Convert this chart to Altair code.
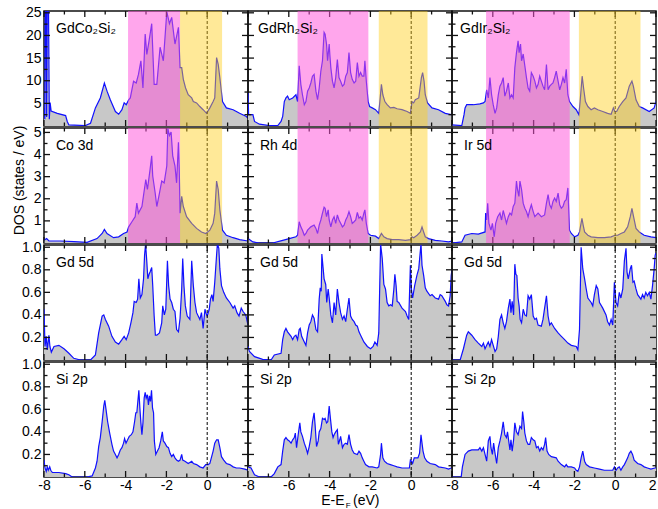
import altair as alt
import pandas as pd

FONT = "Liberation Sans"
W, H = 204, 115
BLUE = "#1010ff"
FILL = "#c8c8c8"
PINK = "#ff55da"
YELLOW = "#ffcf1b"
INK = "#111111"

# ---------------- data (E - E_F in eV, DOS in states/eV) ----------------
co_tot = [(-8.00, 4.0), (-7.96, 1.5), (-7.94, 27), (-7.90, 27), (-7.87, 2.0), (-7.84, 27), (-7.78, 27),
          (-7.74, 1.5), (-7.70, 5.2), (-7.65, 3.3), (-7.35, 2.8), (-6.94, 2.3), (-6.86, 1.0), (-6.78, 0.24),
          (-5.97, 0.1), (-5.72, 0.6), (-5.48, 4.0), (-5.24, 6.2), (-5.04, 9.5), (-4.91, 7.7), (-4.75, 5.8),
          (-4.50, 3.2), (-4.34, 2.6), (-4.18, 3.6), (-4.07, 5.1), (-3.97, 4.7), (-3.85, 5.8), (-3.77, 6.2),
          (-3.61, 9.9), (-3.48, 9.5), (-3.37, 11.4), (-3.25, 14.4), (-3.15, 8.4), (-3.04, 20.3), (-2.96, 15.8),
          (-2.85, 18.8), (-2.72, 22.6), (-2.60, 9.2), (-2.47, 9.2), (-2.31, 17.4), (-2.15, 14.4), (-1.98, 25.2),
          (-1.85, 22.6), (-1.74, 24.0), (-1.58, 18.1), (-1.41, 21.8), (-1.33, 12.9), (-1.25, 12.9), (-1.17, 10.3),
          (-1.06, 8.4), (-0.93, 6.9), (-0.76, 6.2), (-0.68, 5.4), (-0.52, 5.1), (-0.36, 4.3), (-0.20, 3.6),
          (-0.03, 2.8), (0.13, 4.0), (0.29, 5.4), (0.37, 6.2), (0.46, 15.1), (0.54, 13.6), (0.62, 10.7),
          (0.75, 5.4), (0.94, 4.0), (1.27, 3.6), (1.59, 2.8), (1.92, 2.1), (2.00, 1.7)]

rh_tot = [(-8.00, 7.3), (-7.97, 2.5), (-7.76, 2.5), (-7.68, 1.0), (-7.44, 0.4), (-6.95, 0.1), (-6.54, 0.1),
          (-6.38, 1.0), (-6.30, 2.1), (-6.22, 5.4), (-6.14, 6.2), (-6.06, 6.6), (-5.98, 5.8), (-5.81, 6.2),
          (-5.65, 6.9), (-5.57, 5.4), (-5.49, 13.3), (-5.41, 9.2), (-5.33, 6.9), (-5.24, 4.7), (-5.16, 5.4),
          (-5.08, 7.7), (-5.00, 8.4), (-4.92, 9.5), (-4.84, 11.0), (-4.76, 11.4), (-4.67, 7.7), (-4.59, 5.8),
          (-4.51, 8.4), (-4.43, 12.1), (-4.35, 14.4), (-4.27, 20.7), (-4.22, 20.3), (-4.15, 18.1), (-4.10, 14.4),
          (-4.02, 18.1), (-3.99, 15.9), (-3.94, 12.9), (-3.86, 9.9), (-3.78, 8.4), (-3.70, 10.7), (-3.62, 14.7),
          (-3.54, 10.7), (-3.46, 9.9), (-3.37, 8.8), (-3.29, 9.2), (-3.21, 11.0), (-3.13, 11.8), (-3.05, 16.2),
          (-2.97, 11.8), (-2.89, 10.3), (-2.80, 9.5), (-2.72, 9.9), (-2.64, 14.0), (-2.56, 11.0), (-2.48, 11.8),
          (-2.40, 11.0), (-2.32, 11.0), (-2.27, 14.4), (-2.20, 9.9), (-2.11, 5.4), (-2.04, 4.3), (-1.91, 4.0),
          (-1.75, 3.6), (-1.59, 2.8), (-1.46, 9.2), (-1.39, 6.9), (-1.29, 5.4), (-1.18, 4.7), (-1.02, 4.0),
          (-0.85, 4.1), (-0.69, 3.8), (-0.45, 3.6), (-0.20, 3.2), (-0.04, 2.8), (0.04, 5.4), (0.12, 5.1),
          (0.20, 5.8), (0.37, 6.2), (0.50, 10.7), (0.56, 11.8), (0.63, 9.9), (0.69, 6.9), (0.80, 5.1),
          (1.02, 4.0), (1.34, 3.6), (1.67, 2.8), (1.96, 2.5), (2.00, 2.5)]

ir_tot = [(-8.00, 0.24), (-7.52, 0.1), (-7.41, 2.5), (-7.36, 4.0), (-7.28, 4.7), (-6.95, 4.7), (-6.63, 4.9),
          (-6.46, 5.1), (-6.38, 5.4), (-6.30, 8.0), (-6.22, 6.2), (-6.14, 10.7), (-6.06, 6.9), (-5.98, 4.7),
          (-5.89, 2.8), (-5.81, 4.0), (-5.73, 6.9), (-5.65, 8.8), (-5.57, 9.5), (-5.49, 10.7), (-5.41, 6.6),
          (-5.33, 7.7), (-5.24, 9.5), (-5.16, 6.2), (-5.08, 6.9), (-5.00, 6.2), (-4.92, 12.9), (-4.84, 16.2),
          (-4.76, 18.8), (-4.71, 16.2), (-4.64, 18.1), (-4.59, 14.4), (-4.51, 15.9), (-4.43, 13.3), (-4.35, 10.7),
          (-4.27, 8.4), (-4.19, 7.7), (-4.11, 11.8), (-4.02, 11.0), (-3.94, 9.9), (-3.86, 8.4), (-3.78, 9.2),
          (-3.70, 11.0), (-3.54, 8.8), (-3.46, 8.0), (-3.37, 13.6), (-3.29, 8.0), (-3.21, 8.8), (-3.13, 9.2),
          (-3.05, 9.5), (-2.97, 10.7), (-2.89, 12.1), (-2.80, 9.9), (-2.72, 8.0), (-2.64, 9.2), (-2.56, 10.7),
          (-2.48, 9.5), (-2.40, 12.5), (-2.32, 6.9), (-2.24, 5.4), (-2.07, 4.3), (-1.91, 3.6), (-1.78, 2.5),
          (-1.72, 5.4), (-1.62, 11.0), (-1.55, 8.4), (-1.46, 5.4), (-1.34, 4.3), (-1.18, 3.6), (-1.02, 4.0),
          (-0.85, 3.6), (-0.61, 3.2), (-0.37, 2.8), (-0.20, 2.6), (-0.09, 4.0), (-0.02, 3.2), (0.07, 3.2),
          (0.20, 4.3), (0.37, 5.4), (0.53, 6.2), (0.69, 8.8), (0.82, 9.9), (0.89, 8.8), (1.02, 5.8),
          (1.18, 4.3), (1.34, 4.0), (1.67, 3.2), (1.91, 4.0), (2.00, 5.4)]

co_3d = [(-8.00, 0.12), (-7.87, 0.2), (-7.76, 0.09), (-7.19, 0.09), (-6.54, 0.06), (-5.89, 0.03), (-5.40, 0.2),
         (-5.15, 0.43), (-5.04, 0.61), (-4.91, 0.43), (-4.59, 0.24), (-4.34, 0.28), (-4.10, 0.43), (-3.93, 0.5),
         (-3.85, 0.73), (-3.69, 0.96), (-3.53, 1.19), (-3.45, 1.8), (-3.37, 1.35), (-3.20, 1.65), (-3.01, 2.87),
         (-2.93, 2.42), (-2.80, 3.33), (-2.72, 3.94), (-2.67, 3.03), (-2.55, 2.26), (-2.47, 1.65), (-2.34, 2.26),
         (-2.23, 2.8), (-2.11, 2.72), (-1.98, 3.49), (-1.93, 5.17), (-1.85, 4.86), (-1.77, 5.02), (-1.69, 3.94),
         (-1.58, 3.49), (-1.50, 2.72), (-1.41, 4.56), (-1.37, 3.33), (-1.33, 1.35), (-1.25, 2.11), (-1.17, 1.65),
         (-1.01, 1.19), (-0.76, 0.89), (-0.52, 0.66), (-0.28, 0.5), (-0.07, 0.43), (0.13, 0.58), (0.29, 0.89),
         (0.37, 1.35), (0.46, 2.8), (0.54, 2.42), (0.62, 1.5), (0.75, 0.58), (0.94, 0.35), (1.27, 0.24),
         (1.59, 0.15), (2.00, 0.09)]

rh_4d = [(-8.00, 0.2), (-7.76, 0.05), (-7.44, 0.0), (-6.79, 0.0), (-6.30, 0.12), (-5.98, 0.2), (-5.65, 0.28),
         (-5.57, 0.35), (-5.49, 0.96), (-5.41, 0.73), (-5.33, 0.58), (-5.24, 0.35), (-5.16, 0.43), (-5.08, 0.58),
         (-4.92, 0.73), (-4.76, 0.81), (-4.67, 0.66), (-4.59, 0.43), (-4.51, 0.81), (-4.43, 1.04), (-4.35, 1.35),
         (-4.27, 1.62), (-4.22, 1.57), (-4.15, 1.19), (-4.07, 1.5), (-4.02, 1.04), (-3.94, 0.73), (-3.86, 1.04),
         (-3.78, 1.19), (-3.70, 0.89), (-3.62, 1.27), (-3.54, 1.04), (-3.46, 0.89), (-3.37, 0.73), (-3.29, 0.81),
         (-3.21, 1.04), (-3.13, 1.19), (-3.05, 1.42), (-2.97, 1.19), (-2.89, 0.89), (-2.80, 0.96), (-2.72, 1.04),
         (-2.64, 1.38), (-2.56, 1.12), (-2.48, 1.19), (-2.40, 1.04), (-2.32, 1.35), (-2.27, 1.5), (-2.20, 0.89),
         (-2.11, 0.43), (-1.99, 0.35), (-1.75, 0.31), (-1.59, 0.2), (-1.46, 0.43), (-1.34, 0.28), (-1.18, 0.2),
         (-0.93, 0.15), (-0.61, 0.15), (-0.28, 0.12), (-0.04, 0.15), (0.04, 0.28), (0.12, 0.24), (0.29, 0.35),
         (0.45, 0.5), (0.53, 0.73), (0.61, 0.5), (0.69, 0.28), (0.85, 0.2), (1.18, 0.12), (1.50, 0.09),
         (1.83, 0.05), (2.00, 0.09)]

ir_5d = [(-8.00, 0.0), (-7.52, 0.05), (-7.36, 0.35), (-7.03, 0.43), (-6.71, 0.4), (-6.38, 0.5), (-6.35, 1.35),
         (-6.30, 1.04), (-6.25, 1.8), (-6.19, 0.89), (-6.09, 0.58), (-6.02, 0.89), (-5.93, 0.28), (-5.86, 0.89),
         (-5.76, 1.19), (-5.65, 1.35), (-5.57, 1.04), (-5.49, 1.47), (-5.41, 1.19), (-5.33, 0.89), (-5.24, 1.19),
         (-5.16, 1.35), (-5.08, 1.27), (-5.00, 1.65), (-4.92, 1.8), (-4.84, 2.8), (-4.79, 2.42), (-4.72, 2.11),
         (-4.67, 2.8), (-4.59, 2.42), (-4.51, 1.8), (-4.43, 1.57), (-4.35, 1.42), (-4.27, 1.19), (-4.19, 1.5),
         (-4.11, 1.73), (-4.02, 1.42), (-3.94, 1.19), (-3.86, 1.27), (-3.78, 1.35), (-3.70, 1.27), (-3.62, 1.19),
         (-3.46, 1.27), (-3.37, 1.8), (-3.29, 2.19), (-3.21, 1.73), (-3.13, 1.57), (-3.05, 1.88), (-2.97, 2.03),
         (-2.89, 1.88), (-2.80, 2.26), (-2.72, 1.73), (-2.64, 1.57), (-2.56, 1.65), (-2.48, 1.88), (-2.40, 1.96),
         (-2.32, 2.49), (-2.24, 0.58), (-2.15, 0.43), (-1.99, 0.28), (-1.83, 0.35), (-1.75, 0.5), (-1.63, 1.12),
         (-1.57, 0.81), (-1.50, 0.5), (-1.34, 0.35), (-1.18, 0.28), (-0.85, 0.24), (-0.53, 0.24), (-0.20, 0.28),
         (-0.01, 0.35), (0.12, 0.35), (0.28, 0.43), (0.45, 0.5), (0.61, 0.73), (0.74, 1.19), (0.82, 1.57),
         (0.90, 1.19), (1.02, 0.66), (1.18, 0.5), (1.42, 0.35), (1.75, 0.28), (2.00, 0.24)]

gd5d_co = [(-8.00, 0.45), (-7.95, 0.12), (-7.89, 0.21), (-7.84, 0.09), (-7.76, 0.22), (-7.71, 0.12), (-7.64, 0.07),
           (-7.51, 0.12), (-7.27, 0.13), (-7.02, 0.10), (-6.78, 0.06), (-6.54, 0.015), (-6.21, 0.0), (-5.72, 0.0),
           (-5.48, 0.045), (-5.32, 0.24), (-5.15, 0.39), (-5.07, 0.40), (-4.99, 0.36), (-4.83, 0.30), (-4.67, 0.21),
           (-4.50, 0.16), (-4.34, 0.14), (-4.18, 0.18), (-4.07, 0.21), (-3.97, 0.18), (-3.85, 0.24), (-3.74, 0.33),
           (-3.64, 0.42), (-3.58, 0.52), (-3.48, 0.51), (-3.41, 0.54), (-3.35, 0.72), (-3.28, 0.55), (-3.20, 0.58),
           (-3.12, 0.72), (-3.07, 0.93), (-3.02, 1.03), (-2.96, 0.87), (-2.91, 0.72), (-2.85, 0.76), (-2.80, 0.78),
           (-2.72, 0.82), (-2.67, 0.66), (-2.60, 0.39), (-2.54, 0.22), (-2.47, 0.22), (-2.34, 0.24), (-2.23, 0.33),
           (-2.18, 0.48), (-2.10, 0.40), (-2.03, 0.45), (-1.95, 0.88), (-1.89, 0.66), (-1.82, 0.54), (-1.74, 0.51),
           (-1.66, 0.45), (-1.58, 0.43), (-1.50, 0.27), (-1.41, 0.25), (-1.33, 0.37), (-1.25, 0.63), (-1.20, 0.90),
           (-1.14, 0.66), (-1.07, 0.48), (-0.98, 0.39), (-0.85, 0.36), (-0.76, 0.88), (-0.68, 0.66), (-0.60, 0.51),
           (-0.52, 0.42), (-0.36, 0.36), (-0.28, 0.42), (-0.20, 0.28), (-0.11, 0.45), (-0.07, 0.42), (0.00, 0.39),
           (0.10, 0.45), (0.16, 0.54), (0.23, 0.58), (0.29, 0.52), (0.37, 0.69), (0.46, 0.93), (0.50, 1.03),
           (0.57, 0.99), (0.62, 0.81), (0.70, 0.66), (0.81, 0.60), (0.94, 0.55), (1.11, 0.51), (1.27, 0.46),
           (1.35, 0.48), (1.46, 0.42), (1.56, 0.39), (1.67, 0.46), (1.76, 0.43), (1.89, 0.40), (2.00, 0.31)]

gd5d_rh = [(-8.00, 0.12), (-7.93, 0.075), (-7.68, 0.03), (-7.28, 0.006), (-6.87, 0.0), (-6.71, 0.045), (-6.38, 0.06),
           (-6.30, 0.18), (-6.22, 0.25), (-6.14, 0.28), (-6.06, 0.25), (-5.89, 0.21), (-5.81, 0.18), (-5.73, 0.21),
           (-5.65, 0.22), (-5.57, 0.18), (-5.49, 0.27), (-5.44, 0.28), (-5.37, 0.21), (-5.24, 0.16), (-5.16, 0.13),
           (-5.08, 0.24), (-5.00, 0.31), (-4.92, 0.34), (-4.84, 0.40), (-4.76, 0.37), (-4.67, 0.27), (-4.59, 0.25),
           (-4.51, 0.54), (-4.46, 0.64), (-4.41, 0.61), (-4.38, 0.94), (-4.32, 0.82), (-4.27, 0.72), (-4.19, 0.67),
           (-4.14, 0.51), (-4.07, 0.63), (-4.02, 0.55), (-3.94, 0.40), (-3.86, 0.33), (-3.78, 0.51), (-3.70, 0.40),
           (-3.62, 0.63), (-3.54, 0.51), (-3.46, 0.42), (-3.37, 0.36), (-3.29, 0.39), (-3.21, 0.34), (-3.13, 0.45),
           (-3.05, 0.55), (-2.97, 0.39), (-2.89, 0.36), (-2.80, 0.34), (-2.72, 0.31), (-2.64, 0.30), (-2.56, 0.25),
           (-2.48, 0.22), (-2.32, 0.16), (-2.15, 0.12), (-1.99, 0.10), (-1.87, 0.12), (-1.78, 0.16), (-1.67, 0.13),
           (-1.59, 0.24), (-1.50, 1.03), (-1.42, 0.90), (-1.34, 0.67), (-1.26, 0.63), (-1.18, 0.51), (-1.10, 0.48),
           (-1.02, 0.49), (-0.93, 0.48), (-0.85, 0.63), (-0.80, 0.76), (-0.74, 0.66), (-0.69, 0.52), (-0.61, 0.51),
           (-0.45, 0.46), (-0.28, 0.43), (-0.20, 0.39), (-0.12, 0.36), (-0.04, 0.84), (0.01, 0.63), (0.07, 0.55),
           (0.17, 0.66), (0.28, 0.75), (0.37, 0.81), (0.43, 0.93), (0.48, 1.03), (0.53, 0.84), (0.61, 0.75),
           (0.69, 0.64), (0.77, 0.61), (0.93, 0.57), (1.02, 0.58), (1.18, 0.55), (1.34, 0.54), (1.42, 0.58),
           (1.50, 0.57), (1.67, 0.52), (1.75, 0.49), (1.83, 0.48), (1.91, 0.57), (1.96, 0.75), (2.00, 0.8)]

gd5d_ir = [(-8.00, 0.0), (-7.60, 0.0), (-7.44, 0.10), (-7.28, 0.22), (-7.20, 0.25), (-7.03, 0.22), (-6.87, 0.18),
           (-6.71, 0.15), (-6.54, 0.12), (-6.46, 0.15), (-6.38, 0.10), (-6.30, 0.13), (-6.22, 0.16), (-6.14, 0.12),
           (-6.06, 0.18), (-5.98, 0.13), (-5.89, 0.075), (-5.81, 0.10), (-5.73, 0.21), (-5.65, 0.36), (-5.57, 0.40),
           (-5.49, 0.33), (-5.41, 0.28), (-5.33, 0.34), (-5.24, 0.46), (-5.16, 0.54), (-5.11, 0.42), (-5.05, 0.52),
           (-4.98, 0.40), (-4.92, 0.85), (-4.87, 0.76), (-4.82, 0.75), (-4.76, 0.55), (-4.71, 0.48), (-4.66, 0.36),
           (-4.59, 0.33), (-4.51, 0.45), (-4.43, 0.40), (-4.35, 0.39), (-4.27, 0.57), (-4.19, 0.54), (-4.11, 0.58),
           (-4.02, 0.39), (-3.94, 0.36), (-3.86, 0.37), (-3.78, 0.31), (-3.62, 0.30), (-3.54, 0.36), (-3.46, 0.46),
           (-3.37, 0.57), (-3.29, 0.39), (-3.21, 0.31), (-3.13, 0.33), (-2.97, 0.28), (-2.80, 0.24), (-2.64, 0.21),
           (-2.48, 0.18), (-2.32, 0.15), (-2.15, 0.13), (-1.91, 0.12), (-1.83, 0.09), (-1.75, 0.27), (-1.67, 1.0),
           (-1.59, 0.81), (-1.50, 0.72), (-1.42, 0.63), (-1.34, 0.55), (-1.18, 0.51), (-1.10, 0.48), (-1.02, 0.58),
           (-0.93, 0.66), (-0.85, 0.63), (-0.77, 0.51), (-0.61, 0.46), (-0.45, 0.40), (-0.37, 0.34), (-0.28, 0.31),
           (-0.20, 0.36), (-0.12, 0.31), (-0.04, 0.69), (0.04, 0.51), (0.12, 0.48), (0.20, 0.60), (0.28, 0.55),
           (0.37, 0.63), (0.45, 0.88), (0.53, 0.99), (0.58, 0.78), (0.64, 0.72), (0.74, 0.81), (0.80, 0.84),
           (0.87, 0.69), (0.93, 0.70), (1.02, 0.63), (1.10, 0.58), (1.26, 0.54), (1.34, 0.58), (1.42, 0.55),
           (1.50, 0.60), (1.58, 0.57), (1.67, 0.60), (1.75, 0.54), (1.83, 0.66), (1.91, 0.81), (1.96, 0.93),
           (2.00, 0.95)]

si2p_co = [(-8.00, 0.15), (-7.95, 0.08), (-7.89, 0.05), (-7.84, 0.09), (-7.79, 0.06), (-7.72, 0.09), (-7.67, 0.06),
           (-7.59, 0.04), (-7.27, 0.04), (-6.94, 0.03), (-6.78, 0.02), (-6.62, 0.0), (-6.29, 0.0), (-5.89, 0.0),
           (-5.64, 0.01), (-5.48, 0.08), (-5.40, 0.14), (-5.32, 0.27), (-5.24, 0.35), (-5.15, 0.49), (-5.07, 0.63),
           (-5.02, 0.68), (-4.96, 0.60), (-4.88, 0.49), (-4.78, 0.39), (-4.67, 0.29), (-4.59, 0.23), (-4.50, 0.20),
           (-4.42, 0.17), (-4.34, 0.20), (-4.26, 0.24), (-4.18, 0.26), (-4.10, 0.30), (-4.05, 0.34), (-3.98, 0.30),
           (-3.90, 0.33), (-3.82, 0.36), (-3.72, 0.375), (-3.64, 0.40), (-3.56, 0.49), (-3.50, 0.57), (-3.45, 0.57),
           (-3.40, 0.67), (-3.35, 0.77), (-3.30, 0.61), (-3.25, 0.48), (-3.20, 0.375), (-3.15, 0.48), (-3.09, 0.70),
           (-3.04, 0.75), (-2.99, 0.70), (-2.93, 0.73), (-2.88, 0.64), (-2.83, 0.72), (-2.78, 0.67), (-2.73, 0.77),
           (-2.68, 0.61), (-2.63, 0.57), (-2.59, 0.32), (-2.52, 0.20), (-2.44, 0.23), (-2.36, 0.26), (-2.28, 0.32),
           (-2.20, 0.40), (-2.15, 0.32), (-2.07, 0.30), (-1.98, 0.27), (-1.90, 0.26), (-1.82, 0.21), (-1.74, 0.18),
           (-1.66, 0.20), (-1.58, 0.17), (-1.50, 0.15), (-1.41, 0.14), (-1.33, 0.15), (-1.25, 0.20), (-1.20, 0.15),
           (-1.09, 0.14), (-0.93, 0.12), (-0.76, 0.14), (-0.68, 0.12), (-0.52, 0.11), (-0.36, 0.09), (-0.20, 0.08),
           (-0.07, 0.11), (0.05, 0.11), (0.13, 0.12), (0.29, 0.23), (0.37, 0.30), (0.46, 0.33), (0.54, 0.33),
           (0.62, 0.26), (0.70, 0.18), (0.81, 0.15), (0.94, 0.12), (1.11, 0.11), (1.27, 0.09), (1.43, 0.08),
           (1.59, 0.08), (1.84, 0.07), (2.00, 0.06)]

si2p_rh = [(-8.00, 0.09), (-7.85, 0.08), (-7.68, 0.02), (-7.44, 0.0), (-6.87, 0.0), (-6.71, 0.03), (-6.54, 0.09),
           (-6.38, 0.11), (-6.30, 0.23), (-6.22, 0.33), (-6.14, 0.35), (-6.06, 0.33), (-5.98, 0.32), (-5.89, 0.30),
           (-5.81, 0.33), (-5.73, 0.35), (-5.68, 0.39), (-5.62, 0.26), (-5.54, 0.375), (-5.46, 0.48), (-5.41, 0.40),
           (-5.33, 0.36), (-5.24, 0.30), (-5.16, 0.26), (-5.08, 0.21), (-5.00, 0.27), (-4.92, 0.35), (-4.84, 0.49),
           (-4.76, 0.57), (-4.71, 0.46), (-4.64, 0.27), (-4.56, 0.32), (-4.51, 0.40), (-4.43, 0.43), (-4.35, 0.52),
           (-4.27, 0.51), (-4.22, 0.52), (-4.15, 0.48), (-4.09, 0.49), (-4.02, 0.63), (-3.96, 0.52), (-3.89, 0.40),
           (-3.83, 0.35), (-3.78, 0.375), (-3.70, 0.40), (-3.62, 0.42), (-3.57, 0.29), (-3.50, 0.33), (-3.46, 0.36),
           (-3.37, 0.26), (-3.29, 0.29), (-3.21, 0.30), (-3.13, 0.29), (-3.05, 0.375), (-2.97, 0.29), (-2.89, 0.24),
           (-2.80, 0.21), (-2.64, 0.20), (-2.56, 0.23), (-2.48, 0.21), (-2.40, 0.17), (-2.32, 0.14), (-2.24, 0.11),
           (-2.07, 0.09), (-1.91, 0.09), (-1.67, 0.08), (-1.59, 0.09), (-1.50, 0.20), (-1.46, 0.30), (-1.39, 0.17),
           (-1.31, 0.14), (-1.18, 0.12), (-1.02, 0.11), (-0.85, 0.10), (-0.69, 0.09), (-0.45, 0.08), (-0.09, 0.08),
           (-0.04, 0.15), (0.01, 0.14), (0.07, 0.12), (0.15, 0.17), (0.24, 0.17), (0.33, 0.17), (0.41, 0.21),
           (0.48, 0.375), (0.53, 0.30), (0.58, 0.23), (0.66, 0.17), (0.77, 0.14), (0.93, 0.12), (1.18, 0.11),
           (1.34, 0.09), (1.67, 0.08), (1.83, 0.07), (1.96, 0.08), (2.00, 0.08)]

si2p_ir = [(-8.00, 0.0), (-7.55, 0.0), (-7.49, 0.09), (-7.36, 0.20), (-7.20, 0.23), (-7.03, 0.24), (-6.71, 0.24),
           (-6.63, 0.26), (-6.54, 0.23), (-6.46, 0.26), (-6.38, 0.20), (-6.30, 0.14), (-6.22, 0.32), (-6.14, 0.36),
           (-6.09, 0.26), (-6.02, 0.20), (-5.96, 0.30), (-5.89, 0.21), (-5.81, 0.12), (-5.73, 0.26), (-5.65, 0.32),
           (-5.57, 0.39), (-5.49, 0.49), (-5.41, 0.375), (-5.33, 0.35), (-5.28, 0.40), (-5.22, 0.32), (-5.16, 0.24),
           (-5.11, 0.33), (-5.05, 0.23), (-4.98, 0.33), (-4.92, 0.48), (-4.84, 0.40), (-4.76, 0.375), (-4.67, 0.45),
           (-4.59, 0.43), (-4.54, 0.58), (-4.48, 0.49), (-4.43, 0.39), (-4.35, 0.32), (-4.27, 0.29), (-4.19, 0.29),
           (-4.11, 0.35), (-4.02, 0.33), (-3.94, 0.32), (-3.86, 0.26), (-3.78, 0.27), (-3.70, 0.23), (-3.62, 0.26),
           (-3.54, 0.24), (-3.46, 0.29), (-3.41, 0.35), (-3.34, 0.23), (-3.26, 0.20), (-3.13, 0.18), (-2.89, 0.17),
           (-2.80, 0.14), (-2.64, 0.11), (-2.48, 0.09), (-2.40, 0.11), (-2.32, 0.09), (-2.15, 0.09), (-1.99, 0.08),
           (-1.91, 0.06), (-1.83, 0.05), (-1.75, 0.09), (-1.67, 0.17), (-1.59, 0.23), (-1.50, 0.14), (-1.42, 0.11),
           (-1.26, 0.09), (-1.02, 0.08), (-0.77, 0.07), (-0.53, 0.06), (-0.28, 0.06), (-0.12, 0.06), (-0.04, 0.09),
           (0.04, 0.06), (0.12, 0.08), (0.20, 0.09), (0.28, 0.06), (0.37, 0.09), (0.45, 0.11), (0.53, 0.14),
           (0.61, 0.17), (0.69, 0.21), (0.77, 0.23), (0.85, 0.20), (0.93, 0.15), (1.10, 0.12), (1.26, 0.11),
           (1.42, 0.09), (1.58, 0.08), (1.75, 0.07), (1.94, 0.08), (2.00, 0.08)]

curves = [[co_tot, rh_tot, ir_tot],
          [co_3d, rh_4d, ir_5d],
          [gd5d_co, gd5d_rh, gd5d_ir],
          [si2p_co, si2p_rh, si2p_ir]]

panel_labels = [["GdCo₂Si₂", "GdRh₂Si₂", "GdIr₂Si₂"],
                ["Co 3d", "Rh 4d", "Ir 5d"],
                ["Gd 5d", "Gd 5d", "Gd 5d"],
                ["Si 2p", "Si 2p", "Si 2p"]]

# shaded energy windows per compound (start, end)
pink_bands = [(-3.88, -1.33), (-5.57, -2.10), (-6.33, -2.23)]
yellow_bands = [(-1.33, 0.73), (-1.59, 0.80), (-1.78, 1.24)]

y_domains = [[0, 25.4], [0, 5.2], [0, 1.02], [0, 1.02]]
y_major = [[5, 10, 15, 20, 25], [1, 2, 3, 4, 5], [0.2, 0.4, 0.6, 0.8, 1.0], [0.2, 0.4, 0.6, 0.8, 1.0]]
y_minor = [[2.5, 7.5, 12.5, 17.5, 22.5], [0.5, 1.5, 2.5, 3.5, 4.5],
           [0.1, 0.3, 0.5, 0.7, 0.9], [0.1, 0.3, 0.5, 0.7, 0.9]]
y_formats = ["d", "d", ".1f", ".1f"]
x_major = [-8, -6, -4, -2, 0, 2]
x_minor = [-7, -5, -3, -1, 1]
x_labels = [[-8, -6, -4, -2, 0], [-8, -6, -4, -2, 0], [-8, -6, -4, -2, 0, 2]]

MAJ, MIN = 6, 3.5


def make_panel(r, c):
    xs = alt.Scale(domain=[-8, 2], nice=False, zero=False)
    ys = alt.Scale(domain=y_domains[r], nice=False, zero=False)
    if r == 3:
        xaxis = alt.Axis(values=x_labels[c], ticks=False, domain=False, grid=False,
                         labelFontSize=14, labelPadding=1, labelFont=FONT, labelColor="black",
                         labelExpr="'' + datum.value", title=None,
                         labelAlign={"condition": {"test": "datum.value == 2", "value": "right"},
                                     "value": "center"})
    else:
        xaxis = None
    if c == 0:
        ykw = dict(values=y_major[r], format=y_formats[r], ticks=False, domain=False, grid=False,
                   labelFontSize=14, labelPadding=3, labelFont=FONT, labelColor="black")
        if r == 1:
            ykw.update(title="DOS (states / eV)", titleFontSize=14, titleFont=FONT,
                       titleFontWeight="normal", titlePadding=7, titleColor="black", titleY=52)
        else:
            ykw.update(title=None)
        yaxis = alt.Axis(**ykw)
    else:
        yaxis = None

    X = lambda f="E": alt.X(f"{f}:Q", scale=xs, axis=xaxis)
    Y = lambda f="DOS": alt.Y(f"{f}:Q", scale=ys, axis=yaxis)

    df = pd.DataFrame(curves[r][c], columns=["E", "DOS"])
    layers = []
    layers.append(alt.Chart(df).mark_area(color=FILL, clip=True).encode(x=X(), y=Y()))
    layers.append(alt.Chart(df).mark_line(color=BLUE, strokeWidth=1.2, clip=True).encode(x=X(), y=Y()))
    layers.append(alt.Chart(pd.DataFrame({"E": [0.0]}))
                  .mark_rule(color="black", strokeWidth=1, strokeDash=[3, 2])
                  .encode(x=X()))

    # inward ticks
    for vals, ln in ((x_major, MAJ), (x_minor, MIN)):
        tdf = pd.DataFrame({"E": vals})
        layers.append(alt.Chart(tdf).mark_rule(color=INK, strokeWidth=1.3)
                      .encode(x=X(), y=alt.value(0), y2=alt.value(ln)))
        layers.append(alt.Chart(tdf).mark_rule(color=INK, strokeWidth=1.3)
                      .encode(x=X(), y=alt.value(H), y2=alt.value(H - ln)))
    for vals, ln in ((y_major[r], MAJ), (y_minor[r], MIN)):
        tdf = pd.DataFrame({"DOS": vals})
        layers.append(alt.Chart(tdf).mark_rule(color=INK, strokeWidth=1.3)
                      .encode(y=Y(), x=alt.value(0), x2=alt.value(ln)))
        layers.append(alt.Chart(tdf).mark_rule(color=INK, strokeWidth=1.3)
                      .encode(y=Y(), x=alt.value(W), x2=alt.value(W - ln)))

    if r < 2:
        bdf = pd.DataFrame({
            "start": [pink_bands[c][0], yellow_bands[c][0]],
            "end": [pink_bands[c][1], yellow_bands[c][1]],
            "col": [PINK, YELLOW],
            "op": [0.52, 0.45],
        })
        layers.append(alt.Chart(bdf).mark_rect()
                      .encode(x=X("start"), x2="end:Q",
                              color=alt.Color("col:N", scale=None),
                              opacity=alt.Opacity("op:Q", scale=None)))

    lx = 12
    if r == 0 and c == 1:
        lx = 10
    if r == 0 and c == 2:
        lx = 8
    layers.append(alt.Chart(pd.DataFrame({"t": [panel_labels[r][c]]}))
                  .mark_text(align="left", baseline="alphabetic", fontSize=14, font=FONT, color="black")
                  .encode(x=alt.value(lx), y=alt.value(22), text="t:N"))

    if r == 3 and c == 1:
        layers.append(alt.Chart(pd.DataFrame({"t": ["E-E"]}))
                      .mark_text(align="right", baseline="alphabetic", fontSize=14, font=FONT, color="black")
                      .encode(x=alt.value(96.5), y=alt.value(H + 28), text="t:N"))
        layers.append(alt.Chart(pd.DataFrame({"t": ["F"]}))
                      .mark_text(align="left", baseline="alphabetic", fontSize=8, font=FONT, color="black")
                      .encode(x=alt.value(97.8), y=alt.value(H + 31), text="t:N"))
        layers.append(alt.Chart(pd.DataFrame({"t": ["(eV)"]}))
                      .mark_text(align="left", baseline="alphabetic", fontSize=14, font=FONT, color="black")
                      .encode(x=alt.value(105), y=alt.value(H + 28), text="t:N"))

    return alt.layer(*layers).properties(width=W, height=H)


panels = [make_panel(r, c) for r in range(4) for c in range(3)]

chart = (
    alt.concat(*panels, columns=3, spacing={"row": 2, "column": 0}, bounds="flush")
    .properties(padding={"left": 11, "top": 5, "right": 0, "bottom": 0})
    .configure(font=FONT)
    .configure_view(stroke=INK, strokeWidth=1.5)
)

chart.save("out.html", embed_options={"renderer": "svg", "actions": False})
